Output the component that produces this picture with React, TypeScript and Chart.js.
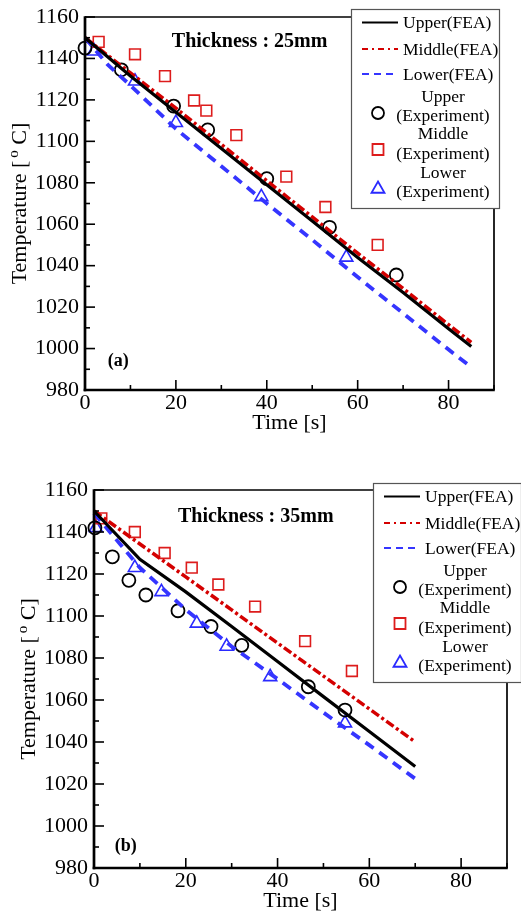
import React, { useEffect, useRef } from 'react';
import { Chart, registerables } from 'chart.js';

Chart.register(...registerables);

const FONT = '"Liberation Serif", "Times New Roman", serif';

// ---------------- Panel (a): Thickness 25 mm ----------------
const A_FEA_TIME = [0, 10, 20, 30, 40, 50, 60, 70, 80, 85];
const A_UPPER_FEA = [1150, 1131.5, 1114, 1096.5, 1079, 1061.5, 1044, 1027, 1009.5, 1001];
const A_MIDDLE_FEA = [1150, 1133, 1116, 1098.5, 1081, 1063.5, 1046, 1029, 1011.5, 1003];
const A_LOWER_FEA_TIME = [0, 5, 10, 20, 30, 40, 50, 60, 70, 80, 85];
const A_LOWER_FEA = [1150, 1137, 1127, 1106, 1088, 1070, 1052.5, 1034.5, 1017, 999.5, 991];

const A_UPPER_EXP_TIME = [0, 8, 19.5, 27, 40, 53.8, 68.5];
const A_UPPER_EXP = [1145, 1134.5, 1117, 1105.5, 1082, 1058.5, 1035.5];
const A_MIDDLE_EXP_TIME = [3, 11, 17.6, 24, 26.7, 33.3, 44.3, 52.9, 64.4];
const A_MIDDLE_EXP = [1148, 1142, 1131.5, 1119.7, 1114.8, 1103, 1083, 1068.3, 1050];
const A_LOWER_EXP_TIME = [2, 11, 20, 38.8, 57.5];
const A_LOWER_EXP = [1143.5, 1129, 1109, 1073.2, 1044];

// ---------------- Panel (b): Thickness 35 mm ----------------
const B_FEA_TIME = [0, 10, 20, 30, 40, 50, 60, 70];
const B_UPPER_FEA = [1150, 1127, 1111.5, 1095, 1078.3, 1061.6, 1045, 1028.3];
const B_MIDDLE_FEA = [1150, 1134.3, 1118.6, 1102.9, 1087.1, 1071.4, 1055.7, 1040];
const B_LOWER_FEA_TIME = [0, 5, 10, 20, 30, 40, 50, 60, 70];
const B_LOWER_FEA = [1149, 1136, 1123, 1103, 1085.5, 1070, 1054, 1038.5, 1022.5];

const B_UPPER_EXP_TIME = [0.2, 4, 7.6, 11.3, 18.3, 25.5, 32.2, 46.7, 54.7];
const B_UPPER_EXP = [1142, 1128.2, 1117, 1110, 1102.5, 1095, 1086, 1066.3, 1055.2];
const B_MIDDLE_EXP_TIME = [1.6, 8.9, 15.4, 21.3, 27.1, 35.1, 46, 56.2];
const B_MIDDLE_EXP = [1146.5, 1140, 1130, 1123, 1115, 1104.5, 1088, 1073.8];
const B_LOWER_EXP_TIME = [0.4, 8.9, 14.7, 22.4, 28.9, 38.4, 54.7];
const B_LOWER_EXP = [1142, 1123, 1111.5, 1096.5, 1085.5, 1071, 1049];

// ---------------- Axes / labels ----------------
const X_MIN = 0, X_MAX = 90, X_MAJOR = 20, X_MINOR = 10;
const Y_MIN = 980, Y_MAX = 1160, Y_MAJOR = 20, Y_MINOR = 10;
const X_TITLE = 'Time [s]';
const Y_TITLE_PARTS = ['Temperature [', 'o', ' C]'];
const FEA_LABELS = ['Upper(FEA)', 'Middle(FEA)', 'Lower(FEA)'];
const EXP_LABELS = [['Upper', '(Experiment)'], ['Middle', '(Experiment)'], ['Lower', '(Experiment)']];
const A_TITLE = 'Thickness : 25mm';
const B_TITLE = 'Thickness : 35mm';
const A_TITLE_POS = [19.1, 1148];
const B_TITLE_POS = [18.3, 1147];
const A_TAG = '(a)';
const B_TAG = '(b)';
const A_TAG_POS = [7.3, 994];
const B_TAG_POS = [6.9, 990.5];

const BLACK = '#000000';
const RED = '#d40000';
const BLUE = '#3535ff';
const RED_M = '#dd1c1c';
const BLUE_M = '#2a2aff';

const xy = (ts: number[], vs: number[]) => ts.map((t, i) => ({ x: t, y: vs[i] }));

function line(ctx: CanvasRenderingContext2D, x1: number, y1: number, x2: number, y2: number) {
  ctx.beginPath();
  ctx.moveTo(x1, y1);
  ctx.lineTo(x2, y2);
  ctx.stroke();
}

function marker(ctx: CanvasRenderingContext2D, kind: string, x: number, y: number, color: string) {
  ctx.save();
  ctx.strokeStyle = color;
  ctx.lineWidth = 1.8;
  ctx.setLineDash([]);
  ctx.beginPath();
  if (kind === 'circle') {
    ctx.arc(x, y, 6, 0, Math.PI * 2);
  } else if (kind === 'rect') {
    ctx.rect(x - 5.5, y - 5.5, 11, 11);
  } else {
    const r = 7.5;
    ctx.moveTo(x, y - r);
    ctx.lineTo(x + r * 0.866, y + r * 0.5);
    ctx.lineTo(x - r * 0.866, y + r * 0.5);
    ctx.closePath();
  }
  ctx.stroke();
  ctx.restore();
}

const overlayPlugin = {
  id: 'overlay',
  afterDatasetsDraw(chart: any) {
    const { ctx, chartArea: ca } = chart;
    const xs = chart.scales.x;
    const ys = chart.scales.y;
    ctx.save();
    ctx.strokeStyle = '#000';
    ctx.setLineDash([]);
    ctx.lineWidth = 1.6;
    for (let v = X_MIN; v <= X_MAX; v += X_MINOR) {
      const px = xs.getPixelForValue(v);
      const len = v % X_MAJOR === 0 ? 10 : 5;
      line(ctx, px, ca.bottom, px, ca.bottom - len);
    }
    for (let v = Y_MIN; v <= Y_MAX; v += Y_MINOR) {
      const py = ys.getPixelForValue(v);
      const len = (v - Y_MIN) % Y_MAJOR === 0 ? 10 : 5;
      line(ctx, ca.left, py, ca.left + len, py);
    }
    // frame
    ctx.lineWidth = 1.7;
    line(ctx, ca.left, ca.top, ca.right, ca.top);
    line(ctx, ca.right, ca.top, ca.right, ca.bottom);
    ctx.lineWidth = 2.7;
    line(ctx, ca.left, ca.top - 0.8, ca.left, ca.bottom + 1.3);
    line(ctx, ca.left - 1.3, ca.bottom, ca.right + 0.8, ca.bottom);
    ctx.restore();
  },
  afterDraw(chart: any, _args: any, opts: any) {
    const { ctx, chartArea: ca } = chart;
    const xs = chart.scales.x;
    const ys = chart.scales.y;
    ctx.save();
    ctx.fillStyle = '#000';
    // x axis title
    ctx.font = `22px ${FONT}`;
    ctx.textAlign = 'center';
    ctx.textBaseline = 'middle';
    ctx.fillText(X_TITLE, (ca.left + ca.right) / 2, ca.bottom + 33);
    // y axis title with superscript degree "o"
    ctx.save();
    ctx.translate(ca.left - 59.5, (ca.top + ca.bottom) / 2);
    ctx.rotate(-Math.PI / 2);
    ctx.textBaseline = 'alphabetic';
    ctx.textAlign = 'left';
    const big = `22px ${FONT}`;
    const small = `15px ${FONT}`;
    ctx.font = big;
    const w0 = ctx.measureText(Y_TITLE_PARTS[0]).width;
    const w2 = ctx.measureText(Y_TITLE_PARTS[2]).width;
    ctx.font = small;
    const w1 = ctx.measureText(Y_TITLE_PARTS[1]).width;
    const gap = 3;
    const total = w0 + gap + w1 + w2;
    let cx = -total / 2;
    ctx.font = big;
    ctx.fillText(Y_TITLE_PARTS[0], cx, 0);
    cx += w0 + gap;
    ctx.font = small;
    ctx.fillText(Y_TITLE_PARTS[1], cx, -8);
    cx += w1;
    ctx.font = big;
    ctx.fillText(Y_TITLE_PARTS[2], cx, 0);
    ctx.restore();
    // panel title & tag
    ctx.font = `bold 20px ${FONT}`;
    ctx.textAlign = 'left';
    ctx.fillText(opts.title, xs.getPixelForValue(opts.titlePos[0]), ys.getPixelForValue(opts.titlePos[1]));
    ctx.font = `bold 18px ${FONT}`;
    ctx.textAlign = 'center';
    ctx.fillText(opts.tag, xs.getPixelForValue(opts.tagPos[0]), ys.getPixelForValue(opts.tagPos[1]));

    // legend
    const bx = opts.legendX, by = opts.legendY;
    const w = 148, h = 199;
    ctx.fillStyle = '#fff';
    ctx.fillRect(bx, by, w, h);
    ctx.strokeStyle = '#555';
    ctx.lineWidth = 1.2;
    ctx.strokeRect(bx + 0.5, by + 0.5, w, h);
    const ds = chart.data.datasets;
    const rows = [13.5, 40, 65];
    ctx.font = `17.5px ${FONT}`;
    ctx.textBaseline = 'middle';
    for (let i = 0; i < 3; i++) {
      const d = ds[i];
      ctx.save();
      ctx.strokeStyle = d.borderColor;
      ctx.lineWidth = 1.9;
      ctx.setLineDash(d.legendDash);
      line(ctx, bx + 11, by + rows[i], bx + 47, by + rows[i]);
      ctx.restore();
      ctx.fillStyle = '#000';
      ctx.textAlign = 'left';
      ctx.fillText(d.label, bx + 52, by + rows[i] + 1);
    }
    const expRows = [[88, 107, 104], [125.5, 145, 140.5], [164, 183, 180]];
    for (let i = 0; i < 3; i++) {
      const d = ds[3 + i];
      marker(ctx, d.pointStyle, bx + 27, by + expRows[i][2], d.borderColor);
      ctx.fillStyle = '#000';
      ctx.textAlign = 'center';
      ctx.fillText(EXP_LABELS[i][0], bx + 92, by + expRows[i][0]);
      ctx.fillText(EXP_LABELS[i][1], bx + 92, by + expRows[i][1]);
    }
    ctx.restore();
  },
};

function makeDatasets(p: any) {
  return [
    { label: FEA_LABELS[0], data: xy(p.feaT, p.upper), borderColor: BLACK, borderWidth: 3.2, pointRadius: 0, borderDash: [], legendDash: [], clip: false },
    { label: FEA_LABELS[1], data: xy(p.feaT, p.middle), borderColor: RED, borderWidth: 3.5, pointRadius: 0, borderDash: [9, 3, 3, 3], legendDash: [6, 4, 2, 4], clip: false },
    { label: FEA_LABELS[2], data: xy(p.lowT, p.lower), borderColor: BLUE, borderWidth: 3.8, pointRadius: 0, borderDash: [10, 7], legendDash: [7, 5], clip: false },
    { label: 'Upper (Experiment)', data: xy(p.ueT, p.ue), showLine: false, pointStyle: 'circle', pointRadius: 6.5, pointBorderWidth: 1.8, borderColor: BLACK, pointBorderColor: BLACK, pointBackgroundColor: 'rgba(0,0,0,0)', clip: false },
    { label: 'Middle (Experiment)', data: xy(p.meT, p.me), showLine: false, pointStyle: 'rect', pointRadius: 7.6, pointBorderWidth: 1.6, borderColor: RED_M, pointBorderColor: RED_M, pointBackgroundColor: 'rgba(0,0,0,0)', clip: false },
    { label: 'Lower (Experiment)', data: xy(p.leT, p.le), showLine: false, pointStyle: 'triangle', pointRadius: 7.5, pointBorderWidth: 1.6, borderColor: BLUE_M, pointBorderColor: BLUE_M, pointBackgroundColor: 'rgba(0,0,0,0)', clip: false },
  ];
}

function Panel(props: any) {
  const ref = useRef<HTMLCanvasElement>(null);
  useEffect(() => {
    const p = props.panel;
    const chart = new Chart(ref.current as HTMLCanvasElement, {
      type: 'line',
      data: { datasets: makeDatasets(p) as any },
      options: {
        animation: false,
        responsive: false,
        devicePixelRatio: 1,
        layout: { padding: { top: p.padTop, right: p.padRight, left: 0, bottom: 0 } },
        plugins: {
          legend: { display: false },
          tooltip: { enabled: false },
          overlay: {
            title: p.title, titlePos: p.titlePos, tag: p.tag, tagPos: p.tagPos,
            legendX: p.legendX, legendY: p.legendY,
          },
        } as any,
        elements: { line: { tension: 0, borderCapStyle: 'butt' } },
        scales: {
          x: {
            type: 'linear', min: X_MIN, max: X_MAX,
            grid: { display: false, drawTicks: false },
            border: { display: false },
            ticks: {
              stepSize: X_MAJOR, includeBounds: false, padding: 2, color: '#000',
              font: { family: FONT, size: 22, lineHeight: 1 },
              maxRotation: 0, autoSkip: false,
              callback: (v: any) => (v % X_MAJOR === 0 ? String(v) : ''),
            },
            afterFit: (s: any) => { s.height = p.xHeight; },
          },
          y: {
            type: 'linear', min: Y_MIN, max: Y_MAX,
            grid: { display: false, drawTicks: false },
            border: { display: false },
            ticks: {
              stepSize: Y_MAJOR, padding: 6, color: '#000',
              font: { family: FONT, size: 22, lineHeight: 1 },
              autoSkip: false,
              callback: (v: any) => String(v),
            },
            afterFit: (s: any) => { s.width = p.yWidth; },
          },
        } as any,
      },
      plugins: [overlayPlugin as any],
    });
    return () => chart.destroy();
  }, []);
  return (
    <canvas
      ref={ref}
      width={521}
      height={props.panel.h}
      style={{ position: 'absolute', left: 0, top: props.panel.top, width: 521, height: props.panel.h }}
    />
  );
}

const PANEL_A = {
  top: 0, h: 460, padTop: 17, padRight: 27, xHeight: 70, yWidth: 85,
  feaT: A_FEA_TIME, upper: A_UPPER_FEA, middle: A_MIDDLE_FEA, lowT: A_LOWER_FEA_TIME, lower: A_LOWER_FEA,
  ueT: A_UPPER_EXP_TIME, ue: A_UPPER_EXP, meT: A_MIDDLE_EXP_TIME, me: A_MIDDLE_EXP, leT: A_LOWER_EXP_TIME, le: A_LOWER_EXP,
  title: A_TITLE, titlePos: A_TITLE_POS, tag: A_TAG, tagPos: A_TAG_POS,
  legendX: 351, legendY: 9,
};

const PANEL_B = {
  top: 460, h: 455, padTop: 30, padRight: 14, xHeight: 47, yWidth: 94,
  feaT: B_FEA_TIME, upper: B_UPPER_FEA, middle: B_MIDDLE_FEA, lowT: B_LOWER_FEA_TIME, lower: B_LOWER_FEA,
  ueT: B_UPPER_EXP_TIME, ue: B_UPPER_EXP, meT: B_MIDDLE_EXP_TIME, me: B_MIDDLE_EXP, leT: B_LOWER_EXP_TIME, le: B_LOWER_EXP,
  title: B_TITLE, titlePos: B_TITLE_POS, tag: B_TAG, tagPos: B_TAG_POS,
  legendX: 373, legendY: 23,
};

export default function App() {
  return (
    <div style={{ position: 'absolute', left: 0, top: 0, width: 521, height: 915, background: '#fff', overflow: 'hidden' }}>
      <Panel panel={PANEL_A} />
      <Panel panel={PANEL_B} />
    </div>
  );
}
